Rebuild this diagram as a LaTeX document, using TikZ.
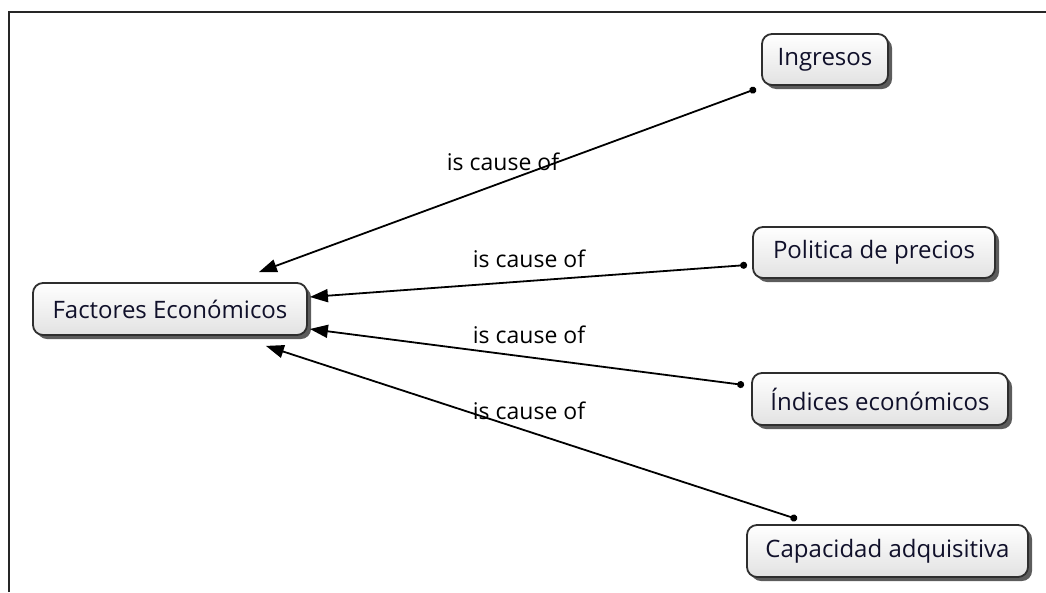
\documentclass[tikz,border=0pt]{standalone}
\usepackage{fontspec}
\setmainfont{Open Sans}
\usetikzlibrary{shadows,arrows.meta,calc}
\definecolor{boxedge}{HTML}{2E2E2E}
\definecolor{boxfill}{HTML}{E2E2E2}
\definecolor{inktext}{HTML}{10102A}
\tikzset{
  concept/.style={draw=boxedge, line width=1.8pt, rounded corners=10pt,
    top color=white, bottom color=boxfill, text=inktext,
    font=\fontsize{24}{28}\selectfont, inner sep=0pt, anchor=center,
    drop shadow={shadow xshift=4pt, shadow yshift=-4pt, fill=black!75, opacity=0.85}},
  link/.style={line width=1.8pt, draw=black,
    {Triangle[length=18pt,width=13pt]}-{Circle[length=7pt]}},
  linklabel/.style={font=\fontsize{23}{27}\selectfont, text=black, inner sep=0pt}
}
\begin{document}
\begin{tikzpicture}[x=1pt,y=-1pt]
\useasboundingbox (0,0) rectangle (1046,592);
% outer frame
\draw[line width=2.2pt, draw=black!85] (9,592) -- (9,12) -- (1046,12);

% concepts
\node[concept, minimum width=274pt, minimum height=52pt] (fe)  at (170,309) {Factores Económicos};
\node[concept, minimum width=126pt, minimum height=51pt] (ing) at (825,59.5) {Ingresos};
\node[concept, minimum width=242pt, minimum height=51pt] (pol) at (874,252.5) {Politica de precios};
\node[concept, minimum width=256pt, minimum height=52pt] (ind) at (880,399) {Índices económicos};
\node[concept, minimum width=281pt, minimum height=52pt] (cap) at (887.5,551) {Capacidad adquisitiva};

% connector endpoints
\coordinate (ingS) at ([xshift=-5pt,yshift=-3pt]ing.south west);
\coordinate (polS) at ([xshift=-5pt,yshift=-12.5pt]pol.west);
\coordinate (indS) at ([xshift=-7pt,yshift=14pt]ind.west);
\coordinate (capS) at ([xshift=51pt,yshift=5pt]cap.north west);
\coordinate (feA) at ([xshift=-49pt,yshift=10pt]fe.north east);
\coordinate (feB) at ([xshift=2pt,yshift=12pt]fe.east);
\coordinate (feC) at ([xshift=2pt,yshift=-20pt]fe.east);
\coordinate (feD) at ([xshift=-42pt,yshift=-10pt]fe.south east);

\draw[link] (feA) -- (ingS);
\draw[link] (feB) -- (polS);
\draw[link] (feC) -- (indS);
\draw[link] (feD) -- (capS);

% link labels
\node[linklabel] (l1) at (503,162) {is cause of};
\node[linklabel] (l2) at (529,259) {is cause of};
\node[linklabel] (l3) at (529,335) {is cause of};
\node[linklabel] (l4) at (529,411) {is cause of};
\end{tikzpicture}
\end{document}
